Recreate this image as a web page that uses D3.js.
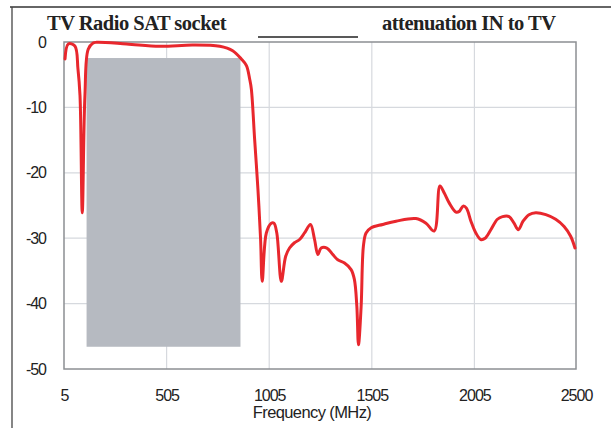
<!DOCTYPE html>
<html><head><meta charset="utf-8">
<script src="https://cdn.jsdelivr.net/npm/d3@7"></script>
<style>body{margin:0;background:#fff}svg{display:block}</style>
</head><body>
<svg id="c" width="611" height="428"></svg>
<script>
const freq = [10,26,58,73,83,94,107,123,147,164,310,472,632,764,827,869,894,910,918,934,950,963,971,991,1015,1028,1042,1064,1085,1104,1128,1153,1177,1206,1226,1242,1258,1286,1315,1339,1372,1404,1420,1432,1440,1453,1464,1477,1502,1558,1623,1720,1769,1809,1837,1858,1882,1915,1931,1950,1966,1988,2012,2036,2057,2085,2117,2142,2174,2198,2219,2242,2271,2304,2353,2401,2442,2474,2495];
const atten = [-2.6,-0.3,-0.6,-4.1,-8.2,-26.1,-8.2,-1.1,-0.15,-0.05,-0.3,-0.66,-0.46,-0.66,-1.33,-2.6,-3.6,-5.7,-7.2,-14.9,-22.5,-30.2,-36.6,-29.2,-27.7,-27.7,-29.2,-36.6,-32.8,-31.5,-30.7,-30.2,-29.2,-27.9,-30.2,-32.5,-31.5,-31.5,-32.5,-33.3,-33.8,-34.8,-36.3,-40.4,-46.3,-40.4,-31.2,-29.2,-28.4,-27.9,-27.4,-27.0,-27.7,-28.9,-22.0,-23.1,-24.6,-26.0,-25.9,-25.1,-25.4,-27.4,-29.2,-30.2,-30.0,-28.7,-27.1,-26.7,-26.7,-27.7,-28.7,-27.4,-26.4,-26.1,-26.4,-27.1,-28.2,-29.7,-31.5];
const xTicks = [5,505,1005,1505,2005,2500];
const yTicks = [0,-10,-20,-30,-40,-50];
const band = [115,865];
const bandLevels = [-2.45,-46.6];
const titleLeft = "TV Radio SAT socket";
const titleRight = "attenuation IN to TV";
const xLabel = "Frequency (MHz)";

const svg = d3.select("#c");
const L=64,R=576,T=42,B=369;
const x = d3.scaleLinear().domain([5,2500]).range([L,R]);
const y = d3.scaleLinear().domain([-50,0]).range([B,T]);

// outer frame
svg.append("line").attr("x1",10).attr("x2",611).attr("y1",7).attr("y2",7).attr("stroke","#333").attr("stroke-width",1.3);
svg.append("line").attr("x1",12).attr("x2",12).attr("y1",7).attr("y2",428).attr("stroke","#444").attr("stroke-width",1.3);

// grid
const g = svg.append("g");
g.selectAll(".gx").data(xTicks.slice(1,-1)).enter().append("line")
 .attr("x1",d=>x(d)).attr("x2",d=>x(d)).attr("y1",T).attr("y2",B).attr("stroke","#d6d9de").attr("stroke-width",1.2);
g.selectAll(".gy").data(yTicks.slice(1,-1)).enter().append("line")
 .attr("x1",L).attr("x2",R).attr("y1",d=>y(d)).attr("y2",d=>y(d)).attr("stroke","#d6d9de").attr("stroke-width",1.2);

// band rect
svg.append("rect").attr("x",x(band[0])).attr("y",y(bandLevels[0]))
 .attr("width",x(band[1])-x(band[0])).attr("height",y(bandLevels[1])-y(bandLevels[0]))
 .attr("fill","#b6bac1");

// plot border
svg.append("rect").attr("x",L).attr("y",T).attr("width",R-L).attr("height",B-T)
 .attr("fill","none").attr("stroke","#8c8f93").attr("stroke-width",1.5);

// axes labels
const fmt = d => String(d);
const xa = d3.axisBottom(x).tickValues(xTicks).tickSize(0).tickPadding(0).tickFormat(fmt);
const xg = svg.append("g").attr("transform",`translate(0,${B})`).call(xa);
xg.select(".domain").remove();
xg.selectAll("text").attr("dy",0).attr("y",32).attr("font-family","Liberation Sans, Arial, sans-serif")
 .attr("font-size",16).attr("letter-spacing","-1px").attr("fill","#222");
const ya = d3.axisLeft(y).tickValues(yTicks).tickSize(0).tickPadding(0).tickFormat(fmt);
const yg = svg.append("g").attr("transform",`translate(46,0)`).call(ya);
yg.select(".domain").remove();
yg.selectAll("text").attr("x",0).attr("font-family","Liberation Sans, Arial, sans-serif")
 .attr("font-size",16).attr("letter-spacing","-1px").attr("fill","#222");

svg.append("text").attr("x",312).attr("y",418).attr("text-anchor","middle")
 .attr("font-family","Liberation Sans, Arial, sans-serif").attr("font-size",16.5).attr("letter-spacing","-0.6px").attr("fill","#222").text(xLabel);

// titles
svg.append("text").attr("x",47).attr("y",30).attr("font-family","Liberation Serif, Times New Roman, serif")
 .attr("font-weight","bold").attr("font-size",20.5).attr("letter-spacing","-0.5px").attr("fill","#222").text(titleLeft);
svg.append("line").attr("x1",258).attr("x2",358).attr("y1",37).attr("y2",37).attr("stroke","#222").attr("stroke-width",1.3);
svg.append("text").attr("x",382).attr("y",30).attr("font-family","Liberation Serif, Times New Roman, serif")
 .attr("font-weight","bold").attr("font-size",20.5).attr("letter-spacing","-0.5px").attr("fill","#222").text(titleRight);

// curve
const pts = freq.map((f,i)=>[f,atten[i]]);
const line = d3.line().x(d=>x(d[0])).y(d=>y(d[1])).curve(d3.curveCatmullRom.alpha(0.5));
svg.append("path").attr("d",line(pts)).attr("fill","none").attr("stroke","#e8272d")
 .attr("stroke-width",3).attr("stroke-linejoin","round").attr("stroke-linecap","round");
</script>
</body></html>
